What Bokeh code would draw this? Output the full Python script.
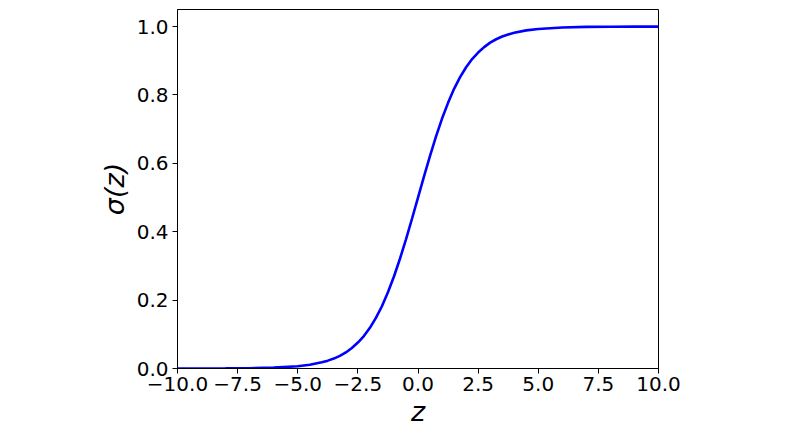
from bokeh.plotting import figure
from bokeh.models import FixedTicker, Range1d
from bokeh.embed import file_html
from bokeh.resources import INLINE

# Values
z_vals = [-10.0, -9.0, -8.0, -7.0, -6.0, -5.0, -4.5, -4.0, -3.75, -3.5, -3.25, -3.0,
          -2.75, -2.5, -2.25, -2.0, -1.75, -1.5, -1.25, -1.0, -0.75, -0.5, -0.25, 0.0,
          0.25, 0.5, 0.75, 1.0, 1.25, 1.5, 1.75, 2.0, 2.25, 2.5, 2.75, 3.0, 3.25, 3.5,
          3.75, 4.0, 4.5, 5.0, 6.0, 7.0, 8.0, 9.0, 10.0]
sigma_vals = [0.0000, 0.0001, 0.0003, 0.0009, 0.0025, 0.0067, 0.011, 0.018, 0.023, 0.029,
              0.037, 0.047, 0.060, 0.076, 0.095, 0.119, 0.148, 0.182, 0.223, 0.269, 0.321,
              0.378, 0.438, 0.500, 0.562, 0.622, 0.679, 0.731, 0.777, 0.818, 0.852, 0.881,
              0.905, 0.924, 0.940, 0.953, 0.963, 0.971, 0.977, 0.982, 0.989, 0.993, 0.9975,
              0.9991, 0.9997, 0.9999, 1.0000]

x_ticks = [-10.0, -7.5, -5.0, -2.5, 0.0, 2.5, 5.0, 7.5, 10.0]
x_tick_labels = ["\u221210.0", "\u22127.5", "\u22125.0", "\u22122.5", "0.0", "2.5", "5.0", "7.5", "10.0"]
y_ticks = [0.0, 0.2, 0.4, 0.6, 0.8, 1.0]
y_tick_labels = ["0.0", "0.2", "0.4", "0.6", "0.8", "1.0"]

p = figure(frame_width=481, frame_height=359, output_backend="svg", toolbar_location=None,
           x_range=Range1d(-10, 10), y_range=Range1d(0, 1.05),
           min_border_left=177, min_border_right=110, min_border_top=9, min_border_bottom=50)

p.line(z_vals, sigma_vals, line_color="#0000ff", line_width=2.6)

p.xgrid.visible = False
p.ygrid.visible = False
p.outline_line_color = "black"
p.outline_line_width = 1
p.background_fill_color = "white"
p.border_fill_color = "white"

p.xaxis.ticker = FixedTicker(ticks=x_ticks)
p.xaxis.major_label_overrides = {t: l for t, l in zip(x_ticks, x_tick_labels)}
p.yaxis.ticker = FixedTicker(ticks=y_ticks)
p.yaxis.major_label_overrides = {t: l for t, l in zip(y_ticks, y_tick_labels)}

for ax in (p.xaxis, p.yaxis):
    ax.axis_line_color = "black"
    ax.major_tick_line_color = "black"
    ax.major_tick_out = 5
    ax.major_tick_in = 0
    ax.minor_tick_line_color = None
    ax.major_label_text_font = "DejaVu Sans"
    ax.major_label_text_font_size = "20px"
    ax.major_label_text_color = "black"
    ax.axis_label_text_font = "DejaVu Sans"
    ax.axis_label_text_font_style = "italic"
    ax.axis_label_text_color = "black"
    ax.axis_label_text_font_size = "27px"

p.xaxis.major_label_standoff = 3
p.yaxis.major_label_standoff = 4
p.xaxis.axis_label = "z"
p.yaxis.axis_label = "\u03c3(z)"
p.xaxis.axis_label_standoff = 2
p.yaxis.axis_label_standoff = 4

open("out.html", "w").write(file_html(p, INLINE))
